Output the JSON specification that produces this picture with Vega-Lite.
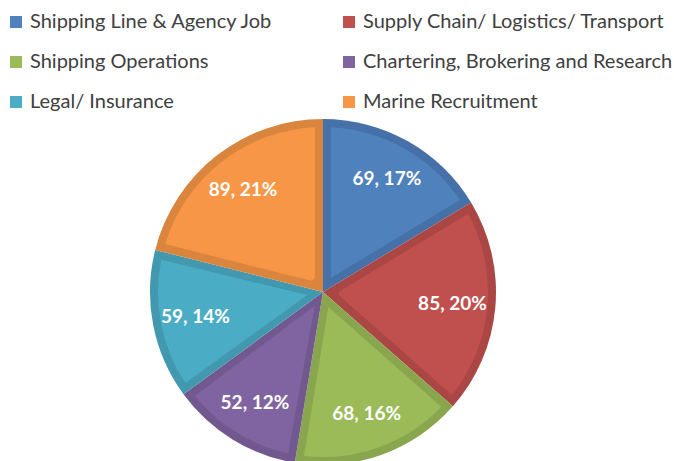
{
  "$schema": "https://vega.github.io/schema/vega-lite/v6.json",
  "width": 646,
  "height": 338,
  "autosize": {"type": "none"},
  "padding": {"left": 0, "top": 123, "right": 28, "bottom": 0},
  "background": "white",
  "config": {"view": {"stroke": null}},
  "data": {
    "values": [
      {"category": "Shipping Line & Agency Job", "value": 69, "label": "69, 17%", "order": 1},
      {"category": "Supply Chain/ Logistics/ Transport", "value": 85, "label": "85, 20%", "order": 2},
      {"category": "Shipping Operations", "value": 68, "label": "68, 16%", "order": 3},
      {"category": "Chartering, Brokering and Research", "value": 52, "label": "52, 12%", "order": 4},
      {"category": "Legal/ Insurance", "value": 59, "label": "59, 14%", "order": 5},
      {"category": "Marine Recruitment", "value": 89, "label": "89, 21%", "order": 6}
    ]
  },
  "encoding": {
    "theta": {"field": "value", "type": "quantitative", "stack": true},
    "order": {"field": "order", "type": "quantitative"}
  },
  "layer": [
    {
      "mark": {"type": "arc", "outerRadius": 173, "stroke": null},
      "encoding": {
        "color": {
          "field": "category", "type": "nominal", "legend": null,
          "scale": {
            "domain": ["Shipping Line & Agency Job", "Supply Chain/ Logistics/ Transport", "Shipping Operations", "Chartering, Brokering and Research", "Legal/ Insurance", "Marine Recruitment"],
            "range": ["#4570A8", "#AA4744", "#89A64E", "#71598F", "#4298AF", "#DA853E"]
          }
        }
      }
    },
    {
      "mark": {"type": "arc", "outerRadius": 165, "innerRadius": 16, "padAngle": 0.097, "stroke": null},
      "encoding": {
        "color": {
          "field": "category", "type": "nominal",
          "sort": null,
          "scale": {
            "domain": ["Shipping Line & Agency Job", "Supply Chain/ Logistics/ Transport", "Shipping Operations", "Chartering, Brokering and Research", "Legal/ Insurance", "Marine Recruitment"],
            "range": ["#4F81BD", "#C0504D", "#9BBB59", "#8064A2", "#4BACC6", "#F79646"]
          },
          "legend": {
            "title": null,
            "orient": "none",
            "legendX": 6,
            "legendY": -111,
            "direction": "horizontal",
            "columns": 2,
            "columnPadding": 66,
            "rowPadding": 20,
            "padding": 0,
            "symbolType": "square",
            "symbolSize": 144,
            "symbolStrokeWidth": 0,
            "symbolOpacity": 1,
            "labelFont": "Lato",
            "labelFontSize": 20,
            "labelColor": "#404040",
            "labelOffset": 4,
            "labelLimit": 400
          }
        }
      }
    },
    {
      "mark": {"type": "text", "radius": 130, "font": "Lato", "fontSize": 19, "fontWeight": "bold", "color": "white"},
      "encoding": {"text": {"field": "label", "type": "nominal"}}
    }
  ],
  "resolve": {"scale": {"color": "independent"}}
}
